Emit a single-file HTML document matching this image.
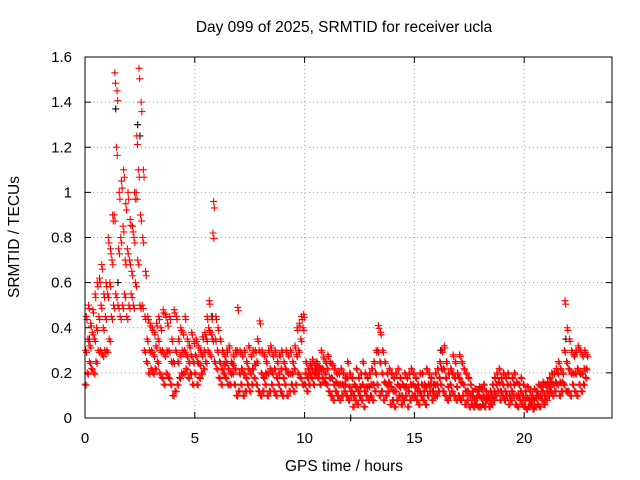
<!DOCTYPE html>
<html><head><meta charset="utf-8"><style>
body{margin:0;background:#fff}
svg{display:block;font-family:"Liberation Sans",sans-serif}
</style></head><body>
<svg id="chart" width="640" height="480" xmlns="http://www.w3.org/2000/svg">
<rect width="640" height="480" fill="#fff"/>
<text x="344" y="32" text-anchor="middle" font-size="15.5">Day 099 of 2025, SRMTID for receiver ucla</text>
<text x="344" y="471" text-anchor="middle" font-size="15.5">GPS time / hours</text>
<text transform="translate(19,237) rotate(-90)" text-anchor="middle" font-size="15.5">SRMTID / TECUs</text>
<g id="grid"></g><g id="ticks"></g><g id="marks"></g>
<rect x="85" y="57" width="527" height="361" fill="none" stroke="#000" stroke-width="1"/>
</svg>
<script>
const xTicks=[0,5,10,15,20];
const yTicks=[0,0.2,0.4,0.6,0.8,1,1.2,1.4,1.6];
const yTickLabels=["0","0.2","0.4","0.6","0.8","1","1.2","1.4","1.6"];
const hi=[.45,.5,.42,.48,.55,.6,.62,.68,.55,.6,.8,.75,.9,1.53,1.45,1.0,1.05,1.1,.95,1.0,.88,.85,1.0,1.25,1.55,1.4,1.1,.65,.45,.42,.4,.38,.42,.45,.4,.48,.46,.42,.45,.35,.48,.45,.35,.4,.38,.45,.35,.32,.38,.34,.35,.32,.3,.36,.38,.45,.52,.45,.96,.45,.4,.35,.3,.28,.3,.32,.25,.28,.3,.49,.3,.28,.3,.25,.32,.28,.3,.3,.35,.43,.3,.28,.25,.3,.32,.28,.3,.25,.28,.3,.25,.3,.28,.3,.25,.32,.4,.42,.45,.46,.25,.22,.24,.26,.24,.25,.23,.3,.27,.25,.28,.25,.24,.22,.2,.2,.22,.2,.18,.25,.2,.18,.15,.22,.18,.2,.25,.2,.18,.2,.22,.25,.3,.41,.38,.3,.25,.2,.22,.2,.18,.2,.22,.18,.15,.2,.18,.2,.22,.2,.18,.15,.2,.2,.15,.22,.2,.18,.15,.2,.22,.25,.3,.32,.25,.2,.22,.28,.25,.2,.28,.25,.22,.2,.18,.15,.12,.13,.12,.14,.13,.15,.12,.1,.12,.15,.18,.2,.22,.18,.2,.18,.2,.15,.18,.2,.16,.15,.18,.15,.12,.14,.12,.1,.13,.12,.15,.14,.16,.15,.16,.18,.2,.2,.22,.25,.22,.2,.52,.4,.35,.3,.28,.3,.32,.3,.28,.3,.28];
const mid=[.3,.35,.32,.38,.35,.4,.45,.5,.4,.45,.55,.6,.7,.9,1.2,.75,.8,.85,.7,.75,.7,.65,.8,1.0,1.1,.9,.8,.45,.35,.3,.3,.28,.32,.35,.3,.3,.28,.3,.3,.25,.25,.3,.25,.28,.3,.3,.28,.25,.28,.25,.28,.25,.24,.28,.3,.35,.4,.38,.82,.35,.3,.25,.22,.24,.25,.22,.2,.24,.22,.3,.2,.22,.2,.18,.22,.2,.22,.24,.25,.3,.2,.18,.2,.2,.22,.2,.22,.18,.2,.22,.18,.22,.2,.2,.2,.22,.28,.3,.35,.4,.2,.18,.2,.22,.2,.22,.2,.22,.22,.2,.22,.18,.18,.15,.16,.15,.15,.15,.15,.18,.14,.12,.1,.14,.12,.14,.15,.12,.14,.14,.15,.15,.2,.3,.25,.2,.16,.15,.16,.14,.12,.12,.15,.14,.1,.14,.14,.12,.15,.15,.14,.12,.12,.15,.12,.14,.15,.15,.12,.15,.15,.18,.22,.22,.18,.14,.15,.2,.18,.14,.18,.16,.15,.12,.12,.1,.1,.08,.09,.1,.09,.1,.08,.09,.08,.1,.12,.15,.16,.12,.15,.12,.15,.1,.12,.15,.1,.1,.12,.1,.08,.09,.08,.08,.08,.09,.1,.1,.12,.1,.12,.14,.16,.15,.16,.2,.16,.16,.3,.25,.22,.2,.2,.2,.22,.2,.2,.22,.22];
const lo=[.15,.2,.25,.22,.2,.25,.3,.3,.28,.3,.3,.35,.45,.5,.55,.5,.45,.5,.55,.45,.5,.55,.5,.6,.7,.5,.5,.3,.25,.2,.22,.2,.22,.25,.2,.18,.15,.2,.18,.15,.1,.12,.15,.18,.2,.2,.22,.18,.2,.15,.2,.15,.18,.2,.22,.25,.3,.28,.35,.25,.22,.18,.15,.2,.18,.15,.15,.2,.15,.1,.12,.15,.1,.12,.15,.12,.15,.18,.15,.12,.1,.12,.15,.1,.12,.15,.12,.1,.15,.12,.1,.15,.1,.12,.15,.12,.15,.2,.18,.15,.15,.12,.15,.18,.15,.2,.18,.15,.18,.16,.15,.12,.1,.08,.12,.1,.08,.1,.12,.1,.08,.1,.05,.08,.06,.1,.08,.05,.1,.08,.1,.08,.12,.15,.1,.12,.08,.1,.12,.06,.08,.05,.08,.1,.06,.08,.1,.05,.08,.1,.1,.08,.06,.1,.08,.06,.1,.12,.08,.1,.1,.12,.15,.12,.1,.08,.1,.12,.1,.08,.1,.08,.1,.06,.08,.05,.06,.05,.06,.05,.05,.06,.05,.08,.05,.06,.08,.1,.12,.08,.1,.08,.1,.06,.08,.1,.06,.05,.08,.06,.05,.04,.05,.06,.04,.05,.06,.05,.08,.06,.08,.1,.12,.1,.12,.15,.1,.12,.15,.12,.12,.1,.15,.12,.1,.15,.12,.15,.18];
const blackT=[0.2,1.4,1.5,2.4,2.5,5.8,12.1,16.2,21.9,22.3];
const blackV=[0.35,1.37,0.6,1.3,1.25,0.45,0.0,0.3,0.35,0.28];
const STEP=0.1;
const X0=85,X1=612,Y0=418,Y1=57,XMAX=24,YMAX=1.6;
const sx=v=>X0+v/XMAX*(X1-X0);
const sy=v=>Y0-v/YMAX*(Y0-Y1);
const NS="http://www.w3.org/2000/svg";
function mk(tag,attrs,parent){const e=document.createElementNS(NS,tag);for(const k in attrs)e.setAttribute(k,attrs[k]);parent.appendChild(e);return e;}
const grid=document.getElementById('grid'),ticks=document.getElementById('ticks'),marks=document.getElementById('marks');
yTicks.forEach((v,i)=>{
  const y=sy(v);
  if(i>0&&i<yTicks.length-1){const g=mk('line',{x1:X0,x2:X1,y1:y,y2:y,stroke:'#a0a0a0','stroke-dasharray':'1,3'},grid);
  
  }
  const t=mk('text',{x:72,y:y+5,'text-anchor':'end','font-size':15},ticks);t.textContent=yTickLabels[i];
  
  
  mk('line',{x1:X0,x2:X0+6,y1:y,y2:y,stroke:'#000'},ticks);
  mk('line',{x1:X1,x2:X1-6,y1:y,y2:y,stroke:'#000'},ticks);
});
xTicks.forEach(v=>{
  const x=sx(v);
  if(v>0){const g=mk('line',{x1:x,x2:x,y1:Y0,y2:Y1,stroke:'#a0a0a0','stroke-dasharray':'1,3'},grid);
  
  }
  const t=mk('text',{x:x,y:443,'text-anchor':'middle','font-size':15},ticks);t.textContent=String(v);
  
  
  mk('line',{x1:x,x2:x,y1:Y0,y2:Y0-6,stroke:'#000'},ticks);
  mk('line',{x1:x,x2:x,y1:Y1,y2:Y1+6,stroke:'#000'},ticks);
});
function plus(t,v,color,name){
  const x=sx(t),y=sy(v);
  const p=mk('path',{d:`M${x-3.5},${y}h7M${x},${y-3.5}v7`,stroke:color,'stroke-width':1.1,fill:'none'},marks);
  
  
}
for(let i=0;i<blackT.length;i++)plus(blackT[i],blackV[i],'#000','black-point');
[lo,mid,hi].forEach((arr,k)=>{
  arr.forEach((v,i)=>{
    plus(i*STEP+k*0.03,v,'#ff0000','red-point');
    plus(i*STEP+0.05+k*0.02,v*0.97,'#ff0000','red-point');
  });
});
</script>
</body></html>
